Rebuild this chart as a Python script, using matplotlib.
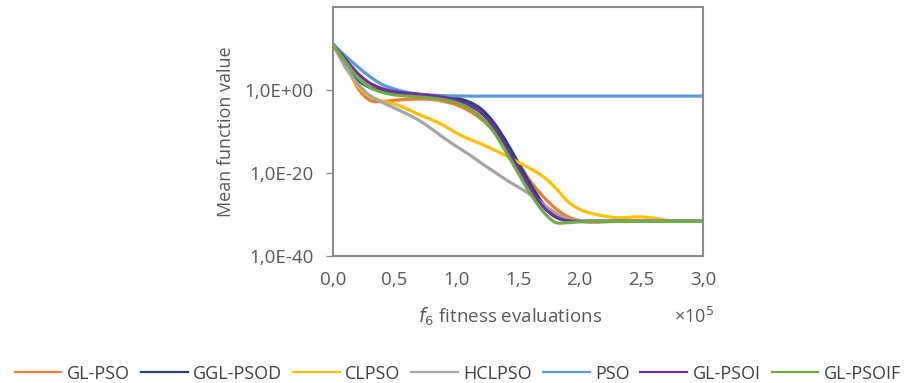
import numpy as np
import matplotlib
matplotlib.use("Agg")
import matplotlib.pyplot as plt
from matplotlib.path import Path
from matplotlib.patches import PathPatch
from matplotlib.lines import Line2D
from matplotlib.ticker import FixedLocator, FuncFormatter

# evaluations (x 1e5) and log10 of the mean function value
evals = np.round(np.arange(0, 3.01, 0.1), 1)

gl_pso = [11, 6.5, 0.5, -2.5, -2.8, -2.5, -2.3, -2.2, -2.3, -2.8, -3.6, -5.0, -7.0, -9.8,
          -13.5, -17.5, -22.0, -25.6, -28.5, -30.5, -31.5, -31.9, -31.8, -31.7, -31.7,
          -31.7, -31.7, -31.7, -31.7, -31.7, -31.7]
ggl_psod = [11, 6.5, 2.5, 0.6, -0.2, -0.6, -0.9, -1.2, -1.4, -1.6, -2.0, -2.9, -4.6, -7.8,
            -12.3, -17.5, -22.8, -27.3, -30.2, -31.4, -31.7, -31.7, -31.7, -31.7, -31.7,
            -31.7, -31.7, -31.7, -31.7, -31.7, -31.7]
clpso = [11, 6.0, 1.0, -1.5, -2.7, -3.4, -4.6, -6.0, -7.2, -8.6, -10.4, -11.8, -13.0, -14.4,
         -15.8, -17.4, -19.0, -20.8, -23.5, -26.8, -28.8, -29.8, -30.4, -30.8, -30.7,
         -30.6, -30.9, -31.4, -31.6, -31.6, -31.6]
hclpso = [11, 5.5, 1.5, -1.4, -3.0, -4.4, -5.8, -7.4, -9.4, -11.6, -13.6, -15.5, -17.6, -19.6,
          -21.6, -23.4, -25.2, -27.4, -29.6, -31.1, -31.5, -31.5, -31.5, -31.5, -31.5,
          -31.5, -31.5, -31.5, -31.5, -31.5, -31.5]
pso = [11, 8.2, 5.6, 3.2, 1.3, 0.2, -0.6, -1.0, -1.25, -1.4, -1.45, -1.5, -1.5, -1.5,
       -1.5, -1.5, -1.5, -1.5, -1.5, -1.5, -1.5, -1.5, -1.5, -1.5, -1.5, -1.5, -1.5,
       -1.5, -1.5, -1.5, -1.5]
gl_psoi = [11, 7.5, 4.0, 1.6, 0.3, -0.4, -0.8, -1.1, -1.4, -1.8, -2.5, -3.6, -5.5, -8.8,
           -13.5, -18.8, -23.8, -28.0, -30.6, -31.5, -31.7, -31.7, -31.7, -31.7, -31.7,
           -31.7, -31.7, -31.7, -31.7, -31.7, -31.7]
gl_psoif = [11, 6.8, 3.0, 0.6, -0.6, -1.2, -1.5, -1.7, -2.0, -2.4, -3.1, -4.4, -6.6, -10.0,
            -14.8, -20.0, -25.0, -29.2, -31.9, -32.0, -31.8, -31.7, -31.7, -31.7, -31.7,
            -31.7, -31.7, -31.7, -31.7, -31.7, -31.7]

names = ["GL-PSO", "GGL-PSOD", "CLPSO", "HCLPSO", "PSO", "GL-PSOI", "GL-PSOIF"]
series = [gl_pso, ggl_psod, clpso, hclpso, pso, gl_psoi, gl_psoif]
colors = ["#ED7D31", "#264478", "#FFC000", "#A5A5A5", "#5B9BD5", "#7030A0", "#70AD47"]


def smooth_path(x, v):
    # Excel-style smoothed line: cubic Bezier segments through the points
    x = np.asarray(x, float)
    v = np.asarray(v, float)
    n = len(x)
    verts = [(x[0], v[0])]
    codes = [Path.MOVETO]
    for i in range(n - 1):
        x0, v0 = (x[i - 1], v[i - 1]) if i > 0 else (x[i], v[i])
        x3, v3 = (x[i + 2], v[i + 2]) if i + 2 < n else (x[i + 1], v[i + 1])
        c1 = (x[i] + (x[i + 1] - x0) / 6, v[i] + (v[i + 1] - v0) / 6)
        c2 = (x[i + 1] - (x3 - x[i]) / 6, v[i + 1] - (v3 - v[i]) / 6)
        verts += [c1, c2, (x[i + 1], v[i + 1])]
        codes += [Path.CURVE4] * 3
    verts = np.array(verts)
    verts[:, 1] = 10.0 ** verts[:, 1]
    return Path(verts, codes)


plt.rcParams['font.family'] = ['Open Sans', 'DejaVu Sans']

fig = plt.figure(figsize=(9.12, 3.83), dpi=100)
ax = fig.add_axes([0.365, 0.332, 0.406, 0.650])

ax.set_yscale("log")
ax.set_ylim(1e-40, 1e20)
ax.set_xlim(0, 3.0)

handles = []
for name, vals, c in zip(names, series, colors):
    ax.add_patch(PathPatch(smooth_path(evals, vals), fill=False, edgecolor=c, lw=2.3,
                           capstyle="round", joinstyle="round"))
    handles.append(Line2D([], [], color=c, lw=1.6, label=name))

ax.yaxis.set_major_locator(FixedLocator([1e-40, 1e-20, 1e0]))
ax.yaxis.set_minor_locator(FixedLocator([]))
ax.yaxis.set_major_formatter(FuncFormatter(
    lambda v, p: "1,0E" + ("+" if v >= 1 else "-") + "%02d" % abs(round(np.log10(v)))))
ax.set_xticks(np.arange(0, 3.01, 0.5))
ax.xaxis.set_major_formatter(FuncFormatter(lambda v, p: ("%.1f" % v).replace(".", ",")))

for s in ax.spines.values():
    s.set_color("#8C8C8C")
    s.set_linewidth(1.5)
ax.tick_params(axis="y", length=5, width=1, color="#8C8C8C", labelsize=13.5,
               labelcolor="#595959", pad=9)
ax.tick_params(axis="x", length=0, labelsize=13.5, labelcolor="#595959", pad=11)

ax.set_ylabel("Mean function value", fontsize=13, color="#595959", labelpad=7)
fig.text(0.559, 0.172, r"$f_6$ fitness evaluations", fontsize=13.5, color="#595959",
         ha="center", va="center")
fig.text(0.761, 0.172, r"×10$^5$", fontsize=13, color="#595959",
         ha="center", va="center")

leg = fig.legend(handles=handles, loc="lower left", bbox_to_anchor=(0.008, -0.018, 0.988, 0.07),
                 mode="expand", ncol=7, frameon=False, fontsize=13,
                 handlelength=2.6, handletextpad=0.3, borderaxespad=0.0)
for t in leg.get_texts():
    t.set_color("#404040")

fig.savefig("out.png", dpi=100)
